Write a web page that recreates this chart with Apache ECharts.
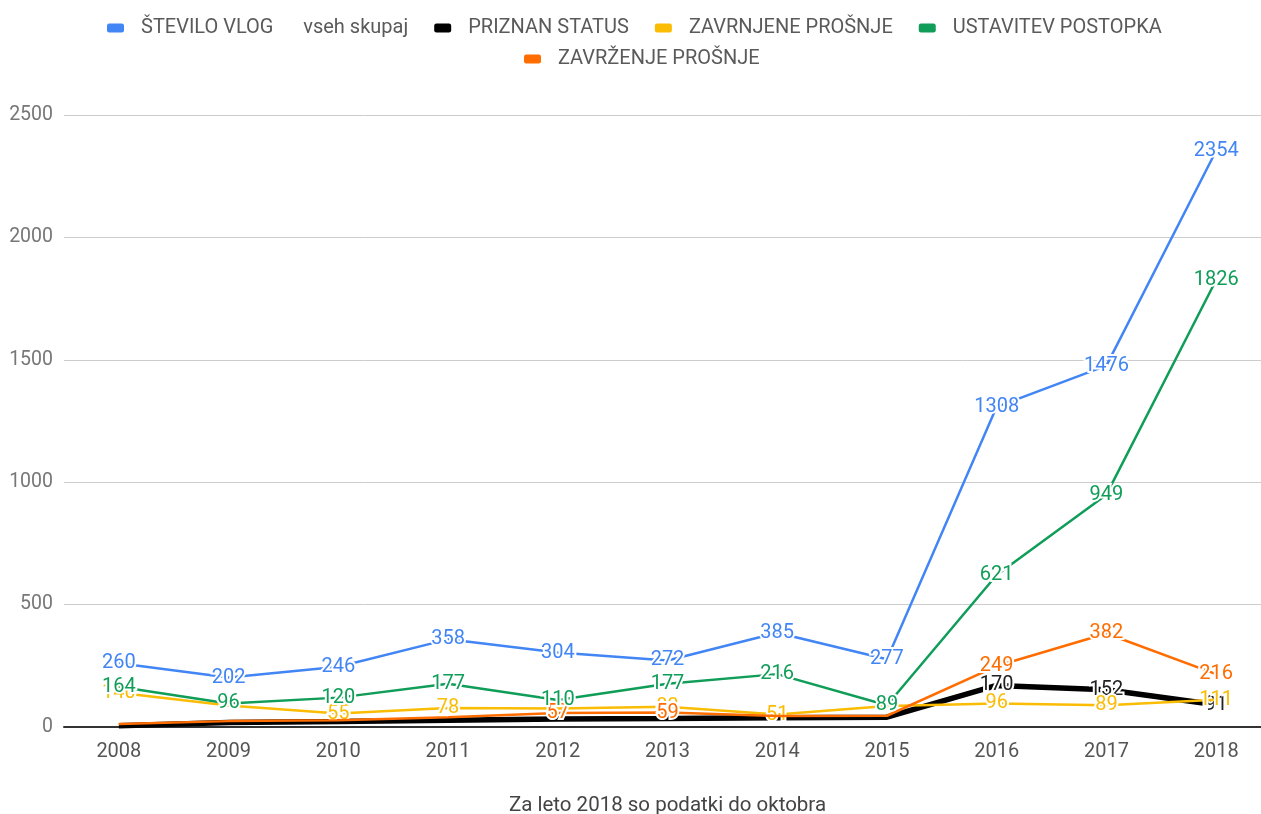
<!DOCTYPE html>
<html>
<head>
<meta charset="utf-8">
<script src="https://cdn.jsdelivr.net/npm/echarts@6/dist/echarts.min.js"></script>
<style>html,body{margin:0;padding:0;background:#fff;}#c{width:1261px;height:814px;}</style>
</head>
<body>
<div id="c"></div>
<script>
var years = ['2008','2009','2010','2011','2012','2013','2014','2015','2016','2017','2018'];
var seriesNames = ['ŠTEVILO VLOG      vseh skupaj','PRIZNAN STATUS','ZAVRNJENE PROŠNJE','USTAVITEV POSTOPKA','ZAVRŽENJE PROŠNJE'];
var stevilo = [260, 202, 246, 358, 304, 272, 385, 277, 1308, 1476, 2354];
var priznan = [5, 18, 22, 28, 33, 35, 38, 40, 170, 152, 91];
var zavrnjene = [140, 88, 55, 78, 76, 83, 51, 86, 96, 89, 111];
var ustavitev = [164, 96, 120, 177, 110, 177, 216, 89, 621, 949, 1826];
var zavrzenje = [12, 24, 28, 40, 57, 59, 45, 46, 249, 382, 216];
// which value labels are visible in the source chart (1 = shown)
var steviloShown   = [1,1,1,1,1,1,1,1,1,1,1];
var priznanShown   = [0,0,0,0,0,0,0,0,1,1,1];
var zavrnjeneShown = [1,0,1,1,0,1,1,0,1,1,1];
var ustavitevShown = [1,1,1,1,1,1,1,1,1,1,1];
var zavrzenjeShown = [0,0,0,0,1,1,0,0,1,1,1];
var yTicks = [0, 500, 1000, 1500, 2000, 2500];
var footnote = 'Za leto 2018 so podatki do oktobra';

var colors = ['#4285F4', '#000000', '#FBBC04', '#0F9D58', '#FF6D01'];
var labelColors = ['#4285F4', '#222222', '#FBBC04', '#0F9D58', '#FF6D01'];
var widths = [2.5, 5.5, 2.5, 2.5, 2.5];
var dataSets = [stevilo, priznan, zavrnjene, ustavitev, zavrzenje];
var shownSets = [steviloShown, priznanShown, zavrnjeneShown, ustavitevShown, zavrzenjeShown];
var zs = [6, 2, 3, 5, 4];

var chart = echarts.init(document.getElementById('c'));
var series = dataSets.map(function (d, i) {
  return {
    name: seriesNames[i],
    type: 'line',
    data: d.map(function (v, j) {
      return { value: v, label: { show: !!shownSets[i][j] } };
    }),
    symbol: 'circle',
    symbolSize: 0,
    showSymbol: true,
    z: zs[i],
    lineStyle: { color: colors[i], width: widths[i] },
    itemStyle: { color: colors[i] },
    label: {
      show: true,
      position: 'inside',
      color: labelColors[i],
      fontFamily: 'Roboto',
      fontSize: 20,
      textBorderColor: '#fff',
      textBorderWidth: 4
    }
  };
});

var legendCommon = {
  itemWidth: 17,
  itemHeight: 9,
  itemGap: 26,
  icon: 'roundRect',
  textStyle: { fontFamily: 'Roboto', fontSize: 20, color: '#5a5a5a', padding: [0, 0, 0, 12] }
};

chart.setOption({
  animation: false,
  color: colors,
  textStyle: { fontFamily: 'Roboto' },
  legend: [
    Object.assign({ top: 13, left: 102, data: seriesNames.slice(0, 4) }, legendCommon),
    Object.assign({ top: 44, left: 519, data: seriesNames.slice(4) }, legendCommon)
  ],
  grid: { left: 64, width: 1207, top: 115, bottom: 87, containLabel: false, outerBoundsMode: 'none' },
  xAxis: {
    type: 'category',
    data: years,
    boundaryGap: true,
    name: footnote,
    nameLocation: 'middle',
    nameGap: 68,
    nameTextStyle: { fontFamily: 'Roboto', fontSize: 20.5, color: '#444' },
    axisLine: { lineStyle: { color: '#333', width: 2 } },
    axisTick: { show: false },
    axisLabel: { fontFamily: 'Roboto', fontSize: 20, color: '#555', margin: 15 }
  },
  yAxis: {
    type: 'value',
    min: yTicks[0],
    max: yTicks[yTicks.length - 1],
    interval: 500,
    axisLine: { show: false },
    axisTick: { show: false },
    splitLine: { lineStyle: { color: '#ccc', width: 1 } },
    axisLabel: { fontFamily: 'Roboto', fontSize: 19.5, color: '#777', margin: 11, formatter: function (v) { return String(v); } }
  },
  series: series
});
</script>
</body>
</html>
